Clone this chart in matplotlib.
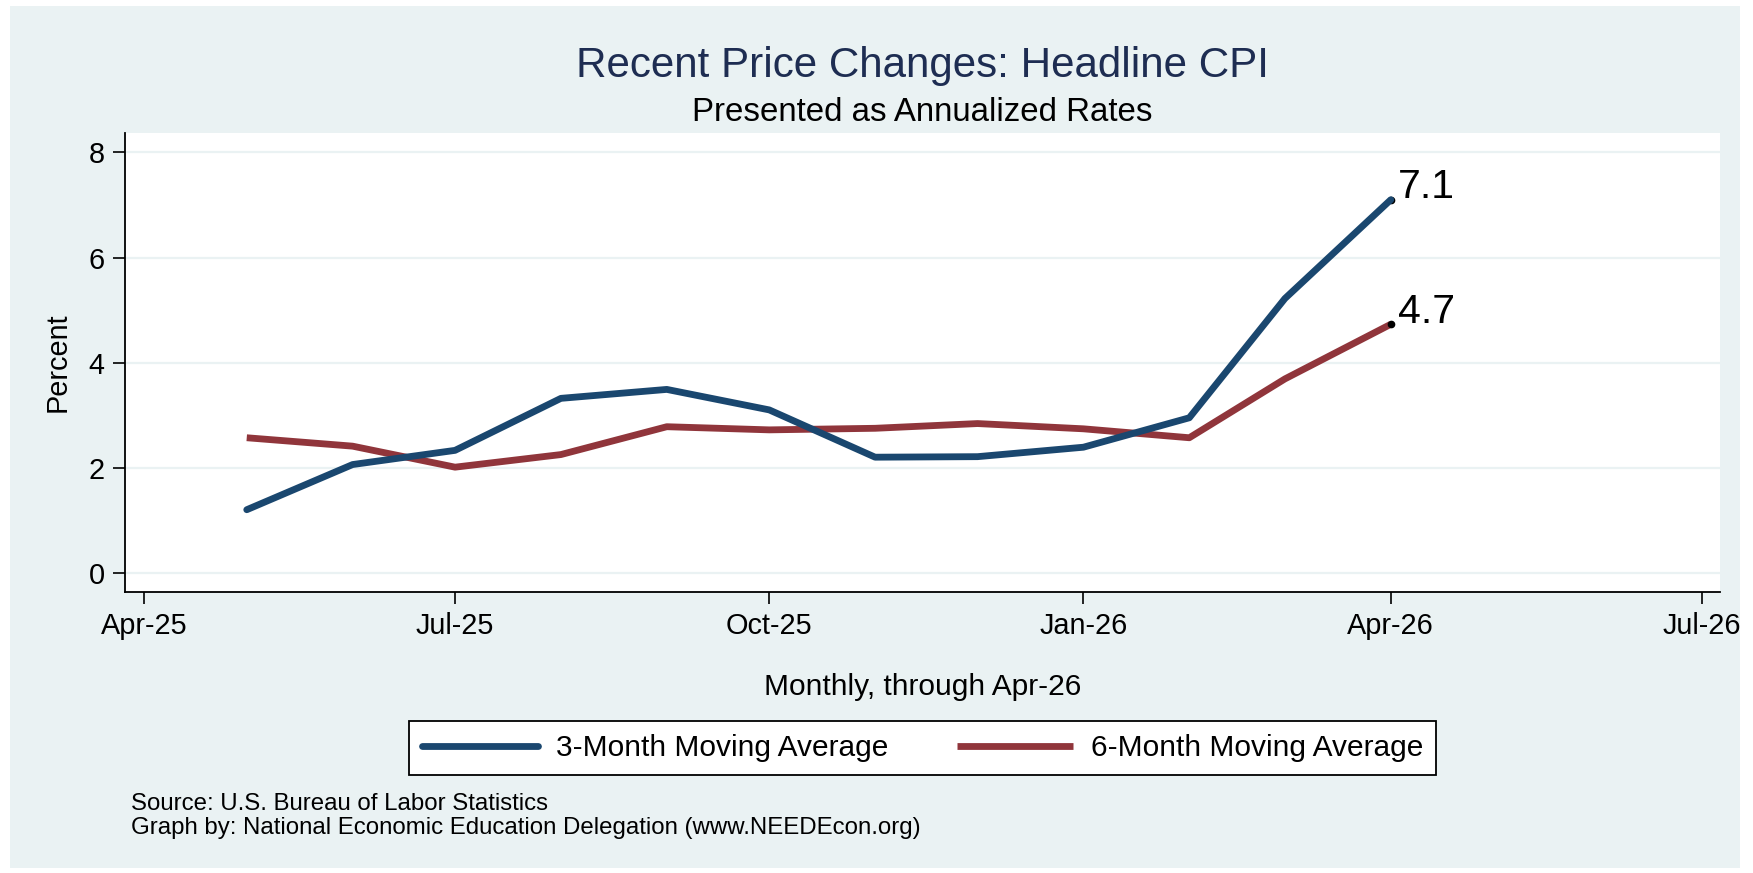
import matplotlib
matplotlib.use('Agg')
import matplotlib.pyplot as plt
import matplotlib.dates as mdates
from matplotlib.patches import Rectangle
from datetime import datetime, timedelta

# datos
meses = ['2025-05', '2025-06', '2025-07', '2025-08', '2025-09', '2025-10',
         '2025-11', '2025-12', '2026-01', '2026-02', '2026-03', '2026-04']
prom_3m = [1.20, 2.06, 2.33, 3.32, 3.49, 3.10, 2.20, 2.21, 2.39, 2.95, 5.22, 7.10]
prom_6m = [2.57, 2.41, 2.01, 2.25, 2.78, 2.72, 2.75, 2.84, 2.74, 2.57, 3.69, 4.73]
ticks_x = ['2025-04', '2025-07', '2025-10', '2026-01', '2026-04', '2026-07']
ticks_y = [0, 2, 4, 6, 8]
etiquetas = ['3-Month Moving Average', '6-Month Moving Average']

fechas = [datetime.strptime(m, '%Y-%m') for m in meses]
fechas_ticks = [datetime.strptime(m, '%Y-%m') for m in ticks_x]

AZUL = '#1A476F'
ROJO = '#90353B'
FONDO = '#EAF2F3'
W, H = 1753, 873

plt.rcParams['font.family'] = ['Liberation Sans', 'DejaVu Sans']

fig = plt.figure(figsize=(W / 100, H / 100), dpi=100, facecolor='white')
fig.patches.append(Rectangle((10 / W, 1 - 868 / H), 1730 / W, 862 / H,
                             transform=fig.transFigure, facecolor=FONDO,
                             edgecolor='none', zorder=-10))

ax = fig.add_axes([125 / W, 1 - 591.7 / H, (1720 - 125) / W, (591.7 - 133) / H])
ax.set_facecolor('white')

ax.plot(fechas, prom_6m, color=ROJO, lw=4.9, solid_joinstyle='round',
        solid_capstyle='butt', label=etiquetas[1], zorder=3)
ax.plot([fechas[-1], fechas[-1]], [prom_3m[-1], prom_6m[-1]], 'o', color='black',
        ms=4.5, ls='none', zorder=4)
ax.plot(fechas, prom_3m, color=AZUL, lw=4.9, solid_joinstyle='round',
        solid_capstyle='round', label=etiquetas[0], zorder=5)

# etiquetas del ultimo valor
for val in (prom_3m[-1], prom_6m[-1]):
    ax.annotate(f'{val:.1f}', (fechas[-1], val), xytext=(5, 1),
                textcoords='offset points', ha='left', va='baseline',
                fontsize=29.5, color='black', zorder=6)

ax.set_xlim(fechas_ticks[0] - timedelta(days=5.65), fechas_ticks[-1] + timedelta(days=5.4))
ax.set_ylim(-0.36, 8.37)
ax.set_xticks(fechas_ticks)
ax.xaxis.set_major_formatter(mdates.DateFormatter('%b-%y'))
ax.set_yticks(ticks_y)
ax.grid(axis='y', color=FONDO, lw=1.6, zorder=1)
ax.set_axisbelow(True)

for lado in ('top', 'right'):
    ax.spines[lado].set_visible(False)
for lado in ('left', 'bottom'):
    ax.spines[lado].set_linewidth(1.3)
ax.tick_params(axis='both', length=8.5, width=1.2, labelsize=20.8, pad=6)

ax.set_ylabel('Percent', fontsize=20.8, labelpad=12)
ax.set_xlabel('Monthly, through Apr-26', fontsize=21.5, labelpad=24)

cx = (125 + 1720) / 2 / W
fig.text(cx, 1 - 77 / H, 'Recent Price Changes: Headline CPI', ha='center',
         va='baseline', fontsize=30.3, color='#1E2D52')
fig.text(cx, 1 - 121 / H, 'Presented as Annualized Rates', ha='center',
         va='baseline', fontsize=23.8, color='black')

lineas, textos = ax.get_legend_handles_labels()
orden = [textos.index(e) for e in etiquetas]
leg = fig.legend([lineas[i] for i in orden], [textos[i] for i in orden],
                 loc='center', bbox_to_anchor=(cx, 1 - 748 / H), ncol=2,
                 fontsize=21.5, frameon=True, fancybox=False, framealpha=1,
                 edgecolor='black', handlelength=3.9, handletextpad=0.58,
                 columnspacing=2.3, borderpad=0.45)
leg.get_frame().set_linewidth(1.3)

fig.text(131 / W, 1 - 810 / H, 'Source: U.S. Bureau of Labor Statistics',
         ha='left', va='baseline', fontsize=17.3)
fig.text(131 / W, 1 - 834 / H,
         'Graph by: National Economic Education Delegation (www.NEEDEcon.org)',
         ha='left', va='baseline', fontsize=17.3)

fig.savefig('out.png', dpi=100, facecolor='white')
